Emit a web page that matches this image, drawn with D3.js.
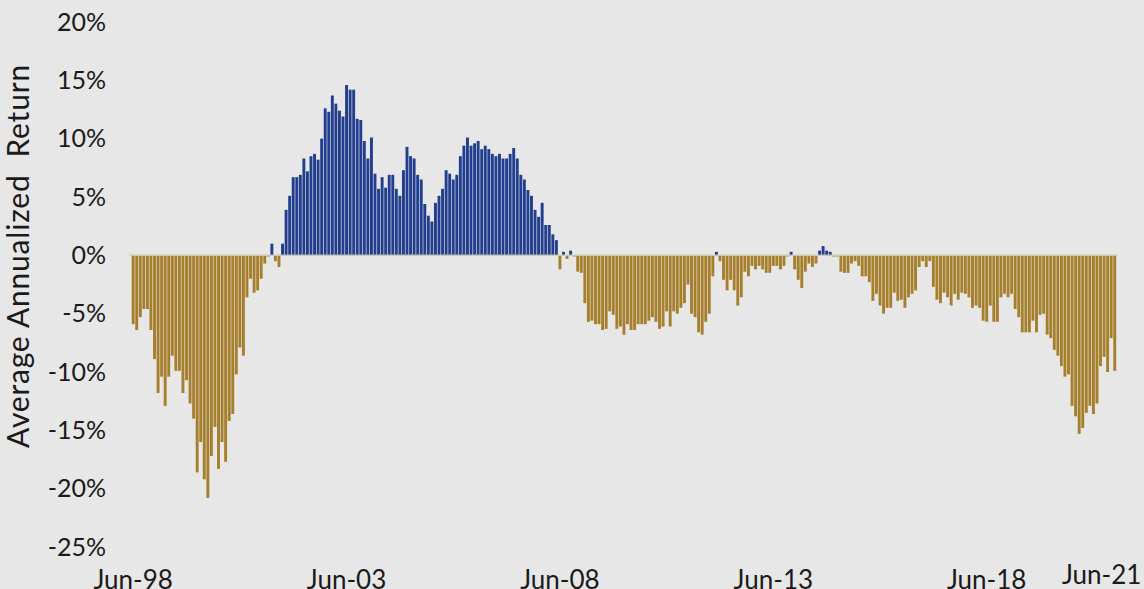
<!DOCTYPE html>
<html>
<head>
<meta charset="utf-8">
<script src="https://cdn.jsdelivr.net/npm/d3@7"></script>
<style>
  body { margin: 0; background: #e7e7e7; }
  svg { display: block; font-family: Lato, "Open Sans", sans-serif; }
</style>
</head>
<body>
<svg id="chart" width="1144" height="589"></svg>
<script>
// monthly values, Jun-98 .. Jun-21 (277 months), average annualized return in %
var returns = [
  -5.9, -6.4, -5.3, -4.6, -4.6, -6.4, -8.9, -11.8, -10.4, -12.9,
  -10.4, -8.6, -9.9, -9.9, -11.8, -10.7, -12.7, -14.0, -18.6, -16.0,
  -19.2, -20.8, -17.2, -14.7, -18.3, -16.0, -17.7, -14.2, -13.6, -10.2,
  -7.9, -8.6, -3.6, -2.0, -3.2, -3.0, -2.0, -0.7, -0.1, 1.0,
  -0.5, -1.0, 1.0, 3.9, 5.1, 6.7, 6.7, 6.9, 8.3, 7.2,
  8.5, 8.7, 8.2, 10.0, 12.6, 12.3, 13.7, 13.0, 12.4, 11.9,
  14.6, 14.2, 14.2, 11.7, 11.6, 9.8, 8.3, 10.1, 7.0, 5.7,
  6.7, 5.8, 6.9, 6.9, 5.7, 5.1, 7.3, 9.3, 8.5, 8.3,
  6.9, 6.5, 4.4, 3.4, 2.9, 4.5, 5.1, 5.7, 7.3, 7.0,
  6.5, 6.9, 8.5, 9.4, 10.1, 9.4, 9.6, 9.8, 9.1, 9.4,
  9.1, 8.7, 8.5, 8.7, 8.3, 8.3, 8.7, 9.2, 8.3, 6.9,
  6.5, 5.6, 5.1, 3.9, 3.3, 4.5, 2.6, 2.6, 1.8, 1.3,
  -1.2, 0.3, -0.3, 0.4, -0.1, -1.4, -1.5, -4.1, -5.7, -5.6,
  -5.9, -5.9, -6.4, -6.3, -4.8, -5.1, -6.3, -6.1, -6.8, -5.9,
  -6.4, -6.4, -5.9, -5.9, -5.9, -5.6, -5.3, -5.7, -6.3, -6.1,
  -4.8, -6.1, -4.8, -5.0, -4.5, -4.1, -2.5, -5.0, -5.3, -6.6,
  -6.8, -5.7, -5.0, -1.8, 0.3, -0.5, -2.1, -3.0, -2.1, -3.0,
  -4.3, -3.6, -1.4, -1.8, -0.9, -1.2, -0.9, -1.2, -1.5, -1.5,
  -0.9, -0.9, -1.2, -0.9, -0.1, 0.3, -1.2, -2.1, -2.8, -1.4,
  -0.7, -1.0, -0.7, 0.4, 0.8, 0.4, 0.3, -0.1, -0.1, -1.4,
  -1.5, -1.5, -0.7, -0.5, -0.9, -1.8, -1.8, -2.3, -3.9, -3.3,
  -4.3, -5.0, -4.5, -4.5, -3.2, -3.9, -3.8, -4.5, -3.6, -3.3,
  -3.0, -1.0, -0.5, -1.0, -0.5, -2.7, -3.8, -4.1, -3.2, -3.6,
  -4.3, -3.3, -3.8, -3.2, -3.3, -3.6, -4.5, -4.3, -4.5, -5.6,
  -5.7, -4.3, -5.7, -5.7, -3.6, -3.3, -3.6, -3.3, -4.6, -5.3,
  -6.6, -6.6, -6.6, -5.6, -6.6, -5.1, -5.0, -6.8, -7.1, -8.1,
  -8.6, -9.5, -10.4, -10.2, -12.9, -13.8, -15.3, -14.8, -13.5, -12.9,
  -13.6, -12.7, -9.5, -8.7, -10.0, -7.1, -9.9
];
var startYear = 1998;
var xTickLabels = ["Jun-98", "Jun-03", "Jun-08", "Jun-13", "Jun-18", "Jun-21"];
var yTicks = [20, 15, 10, 5, 0, -5, -10, -15, -20, -25];
var yTitle = "Average Annualized  Return";

var svg = d3.select("#chart");

// month index -> label like Jun-98
function monthLabel(i) {
  var y = startYear + Math.floor(i / 12);
  return "Jun-" + String(y % 100).padStart(2, "0");
}

var x = d3.scaleBand()
    .domain(d3.range(returns.length))
    .range([131.7, 1116.2])
    .paddingInner(0.18);

var y = d3.scaleLinear()
    .domain([-25, 20])
    .range([547, 22]);

// bars
svg.append("g").selectAll("rect")
    .data(returns)
  .enter().append("rect")
    .attr("x", function(d, i) { return x(i); })
    .attr("width", x.bandwidth())
    .attr("y", function(d) { return d >= 0 ? y(d) : y(0); })
    .attr("height", function(d) { return Math.abs(y(d) - y(0)); })
    .attr("fill", function(d) { return d >= 0 ? "#223f8f" : "#a67f2c"; });

// zero line
svg.append("line")
    .attr("x1", 129).attr("x2", 1118)
    .attr("y1", y(0)).attr("y2", y(0))
    .attr("stroke", "#d2cab6")
    .attr("stroke-width", 1.5)
    .attr("opacity", 0.9);

// y axis labels
var yAxis = d3.axisLeft(y)
    .tickValues(yTicks)
    .tickFormat(function(d) { return d + "%"; })
    .tickSize(0)
    .tickPadding(0);

var yg = svg.append("g")
    .attr("transform", "translate(106,0)")
    .call(yAxis);
yg.select(".domain").remove();
yg.selectAll("text")
    .attr("font-family", "Lato, sans-serif")
    .attr("font-size", 25)
    .attr("fill", "#1a1a1a");

// x labels, every 5 years plus the last month
var xIdx = xTickLabels.map(function(lab) {
  return d3.range(returns.length).filter(function(i) {
    return i % 12 === 0 && monthLabel(i) === lab;
  })[0];
});
svg.append("g").selectAll("text")
    .data(xTickLabels)
  .enter().append("text")
    .attr("x", function(d, k) {
      var cx = x(xIdx[k]) + x.bandwidth() / 2;
      return k === xTickLabels.length - 1 ? cx - 13 : cx;
    })
    .attr("y", function(d, k) { return k === xTickLabels.length - 1 ? 584 : 589; })
    .attr("text-anchor", "middle")
    .attr("font-size", 26)
    .attr("fill", "#1a1a1a")
    .text(function(d) { return d; });

// y title
svg.append("text")
    .attr("transform", "translate(29,256) rotate(-90)")
    .attr("text-anchor", "middle")
    .attr("font-size", 30)
    .attr("letter-spacing", 0.8)
    .attr("fill", "#1a1a1a")
    .attr("xml:space", "preserve")
    .style("white-space", "pre")
    .text(yTitle);
</script>
</body>
</html>
